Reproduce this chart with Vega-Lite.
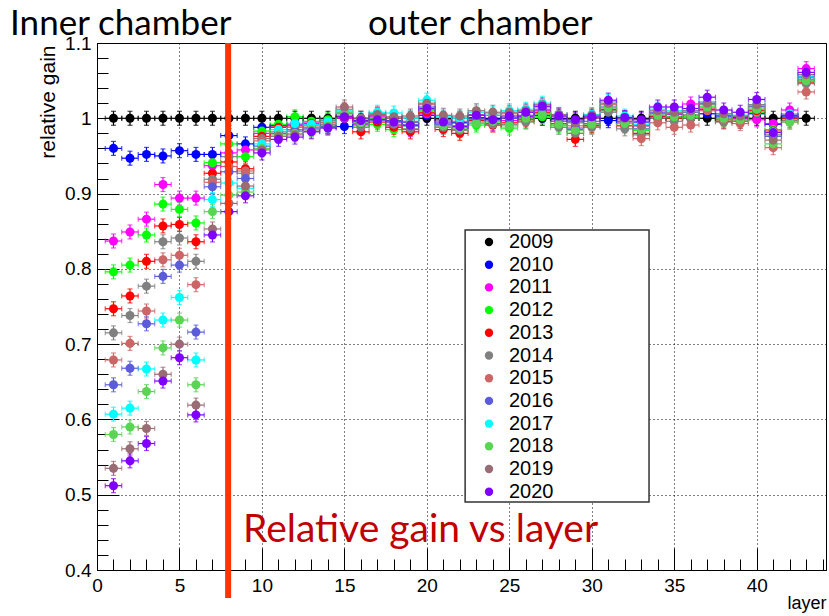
{
"$schema": "https://vega.github.io/schema/vega-lite/v6.json",
"width": 729, "height": 527,
"autosize": "none",
"padding": {"left": 97, "top": 43, "right": 3, "bottom": 46},
"background": "white",
"config": {"view": {"stroke": "black", "strokeWidth": 1}, "font": "Liberation Sans"},
"datasets": {"g": [
{"s":"2009","l":1,"v":1},{"s":"2009","l":2,"v":1},{"s":"2009","l":3,"v":1},{"s":"2009","l":4,"v":1},{"s":"2009","l":5,"v":1},{"s":"2009","l":6,"v":1},{"s":"2009","l":7,"v":1},{"s":"2009","l":8,"v":1},{"s":"2009","l":9,"v":1},{"s":"2009","l":10,"v":1},{"s":"2009","l":11,"v":1},{"s":"2009","l":12,"v":1},{"s":"2009","l":13,"v":1},{"s":"2009","l":14,"v":1},{"s":"2009","l":15,"v":1},{"s":"2009","l":16,"v":1},{"s":"2009","l":17,"v":1},{"s":"2009","l":18,"v":1},{"s":"2009","l":19,"v":1},{"s":"2009","l":20,"v":1},{"s":"2009","l":21,"v":1},{"s":"2009","l":22,"v":1},{"s":"2009","l":23,"v":1},{"s":"2009","l":24,"v":1},{"s":"2009","l":25,"v":1},{"s":"2009","l":26,"v":1},{"s":"2009","l":27,"v":1},{"s":"2009","l":28,"v":1},{"s":"2009","l":29,"v":1},{"s":"2009","l":30,"v":1},{"s":"2009","l":31,"v":1},{"s":"2009","l":32,"v":1},{"s":"2009","l":33,"v":1},{"s":"2009","l":34,"v":1},{"s":"2009","l":35,"v":1},{"s":"2009","l":36,"v":1},{"s":"2009","l":37,"v":1},{"s":"2009","l":38,"v":1},{"s":"2009","l":39,"v":1},{"s":"2009","l":40,"v":1},{"s":"2009","l":41,"v":1},{"s":"2009","l":42,"v":1},{"s":"2009","l":43,"v":1},
{"s":"2010","l":1,"v":0.960},{"s":"2010","l":2,"v":0.947},{"s":"2010","l":3,"v":0.952},{"s":"2010","l":4,"v":0.950},{"s":"2010","l":5,"v":0.957},{"s":"2010","l":6,"v":0.952},{"s":"2010","l":7,"v":0.952},{"s":"2010","l":8,"v":0.977},{"s":"2010","l":9,"v":0.966},{"s":"2010","l":10,"v":0.988},{"s":"2010","l":11,"v":0.990},{"s":"2010","l":12,"v":0.993},{"s":"2010","l":13,"v":0.992},{"s":"2010","l":14,"v":0.989},{"s":"2010","l":15,"v":0.989},{"s":"2010","l":16,"v":0.996},{"s":"2010","l":17,"v":0.998},{"s":"2010","l":18,"v":0.997},{"s":"2010","l":19,"v":0.995},{"s":"2010","l":20,"v":1.004},{"s":"2010","l":21,"v":0.998},{"s":"2010","l":22,"v":0.994},{"s":"2010","l":23,"v":1.001},{"s":"2010","l":24,"v":0.999},{"s":"2010","l":25,"v":1.000},{"s":"2010","l":26,"v":1.002},{"s":"2010","l":27,"v":1.004},{"s":"2010","l":28,"v":0.999},{"s":"2010","l":29,"v":0.996},{"s":"2010","l":30,"v":1.000},{"s":"2010","l":31,"v":0.997},{"s":"2010","l":32,"v":1.000},{"s":"2010","l":33,"v":0.995},{"s":"2010","l":34,"v":1.003},{"s":"2010","l":35,"v":1.002},{"s":"2010","l":36,"v":1.004},{"s":"2010","l":37,"v":1.006},{"s":"2010","l":38,"v":1.003},{"s":"2010","l":39,"v":1.001},{"s":"2010","l":40,"v":1.006},{"s":"2010","l":41,"v":0.992},{"s":"2010","l":42,"v":1.002},{"s":"2010","l":43,"v":1.055},
{"s":"2011","l":1,"v":0.837},{"s":"2011","l":2,"v":0.849},{"s":"2011","l":3,"v":0.866},{"s":"2011","l":4,"v":0.912},{"s":"2011","l":5,"v":0.894},{"s":"2011","l":6,"v":0.894},{"s":"2011","l":7,"v":0.937},{"s":"2011","l":8,"v":0.954},{"s":"2011","l":9,"v":0.958},{"s":"2011","l":10,"v":0.980},{"s":"2011","l":11,"v":0.988},{"s":"2011","l":12,"v":0.992},{"s":"2011","l":13,"v":0.995},{"s":"2011","l":14,"v":0.997},{"s":"2011","l":15,"v":1.000},{"s":"2011","l":16,"v":0.992},{"s":"2011","l":17,"v":1.002},{"s":"2011","l":18,"v":0.990},{"s":"2011","l":19,"v":0.985},{"s":"2011","l":20,"v":1.006},{"s":"2011","l":21,"v":0.990},{"s":"2011","l":22,"v":0.985},{"s":"2011","l":23,"v":0.998},{"s":"2011","l":24,"v":0.993},{"s":"2011","l":25,"v":0.997},{"s":"2011","l":26,"v":1.003},{"s":"2011","l":27,"v":1.010},{"s":"2011","l":28,"v":0.996},{"s":"2011","l":29,"v":0.985},{"s":"2011","l":30,"v":0.993},{"s":"2011","l":31,"v":1.010},{"s":"2011","l":32,"v":0.995},{"s":"2011","l":33,"v":0.990},{"s":"2011","l":34,"v":1.006},{"s":"2011","l":35,"v":1.005},{"s":"2011","l":36,"v":1.019},{"s":"2011","l":37,"v":1.012},{"s":"2011","l":38,"v":1.000},{"s":"2011","l":39,"v":1.000},{"s":"2011","l":40,"v":0.998},{"s":"2011","l":41,"v":0.993},{"s":"2011","l":42,"v":1.011},{"s":"2011","l":43,"v":1.066},
{"s":"2012","l":1,"v":0.796},{"s":"2012","l":2,"v":0.805},{"s":"2012","l":3,"v":0.845},{"s":"2012","l":4,"v":0.886},{"s":"2012","l":5,"v":0.879},{"s":"2012","l":6,"v":0.861},{"s":"2012","l":7,"v":0.941},{"s":"2012","l":8,"v":0.966},{"s":"2012","l":9,"v":0.949},{"s":"2012","l":10,"v":0.983},{"s":"2012","l":11,"v":0.992},{"s":"2012","l":12,"v":1.002},{"s":"2012","l":13,"v":0.996},{"s":"2012","l":14,"v":0.998},{"s":"2012","l":15,"v":1.004},{"s":"2012","l":16,"v":0.990},{"s":"2012","l":17,"v":0.992},{"s":"2012","l":18,"v":0.985},{"s":"2012","l":19,"v":0.990},{"s":"2012","l":20,"v":1.010},{"s":"2012","l":21,"v":0.993},{"s":"2012","l":22,"v":0.988},{"s":"2012","l":23,"v":0.991},{"s":"2012","l":24,"v":0.995},{"s":"2012","l":25,"v":0.987},{"s":"2012","l":26,"v":0.996},{"s":"2012","l":27,"v":1.002},{"s":"2012","l":28,"v":0.990},{"s":"2012","l":29,"v":0.980},{"s":"2012","l":30,"v":0.990},{"s":"2012","l":31,"v":1.011},{"s":"2012","l":32,"v":0.993},{"s":"2012","l":33,"v":0.984},{"s":"2012","l":34,"v":1.004},{"s":"2012","l":35,"v":1.000},{"s":"2012","l":36,"v":1.002},{"s":"2012","l":37,"v":1.015},{"s":"2012","l":38,"v":0.998},{"s":"2012","l":39,"v":0.998},{"s":"2012","l":40,"v":1.008},{"s":"2012","l":41,"v":0.985},{"s":"2012","l":42,"v":0.999},{"s":"2012","l":43,"v":1.050},
{"s":"2013","l":1,"v":0.747},{"s":"2013","l":2,"v":0.764},{"s":"2013","l":3,"v":0.810},{"s":"2013","l":4,"v":0.857},{"s":"2013","l":5,"v":0.859},{"s":"2013","l":6,"v":0.836},{"s":"2013","l":7,"v":0.927},{"s":"2013","l":8,"v":0.942},{"s":"2013","l":9,"v":0.933},{"s":"2013","l":10,"v":0.976},{"s":"2013","l":11,"v":0.988},{"s":"2013","l":12,"v":0.990},{"s":"2013","l":13,"v":0.993},{"s":"2013","l":14,"v":0.995},{"s":"2013","l":15,"v":1.002},{"s":"2013","l":16,"v":0.982},{"s":"2013","l":17,"v":0.995},{"s":"2013","l":18,"v":0.988},{"s":"2013","l":19,"v":0.982},{"s":"2013","l":20,"v":1.008},{"s":"2013","l":21,"v":0.985},{"s":"2013","l":22,"v":0.980},{"s":"2013","l":23,"v":0.997},{"s":"2013","l":24,"v":0.991},{"s":"2013","l":25,"v":0.994},{"s":"2013","l":26,"v":0.998},{"s":"2013","l":27,"v":1.008},{"s":"2013","l":28,"v":0.993},{"s":"2013","l":29,"v":0.972},{"s":"2013","l":30,"v":0.990},{"s":"2013","l":31,"v":1.012},{"s":"2013","l":32,"v":0.990},{"s":"2013","l":33,"v":0.980},{"s":"2013","l":34,"v":1.002},{"s":"2013","l":35,"v":1.000},{"s":"2013","l":36,"v":1.004},{"s":"2013","l":37,"v":1.012},{"s":"2013","l":38,"v":0.996},{"s":"2013","l":39,"v":0.996},{"s":"2013","l":40,"v":1.010},{"s":"2013","l":41,"v":0.983},{"s":"2013","l":42,"v":1.000},{"s":"2013","l":43,"v":1.048},
{"s":"2014","l":1,"v":0.715},{"s":"2014","l":2,"v":0.738},{"s":"2014","l":3,"v":0.777},{"s":"2014","l":4,"v":0.836},{"s":"2014","l":5,"v":0.841},{"s":"2014","l":6,"v":0.810},{"s":"2014","l":7,"v":0.919},{"s":"2014","l":8,"v":0.949},{"s":"2014","l":9,"v":0.927},{"s":"2014","l":10,"v":0.973},{"s":"2014","l":11,"v":0.982},{"s":"2014","l":12,"v":0.985},{"s":"2014","l":13,"v":0.988},{"s":"2014","l":14,"v":0.992},{"s":"2014","l":15,"v":1.006},{"s":"2014","l":16,"v":0.988},{"s":"2014","l":17,"v":0.998},{"s":"2014","l":18,"v":0.992},{"s":"2014","l":19,"v":0.986},{"s":"2014","l":20,"v":1.012},{"s":"2014","l":21,"v":0.988},{"s":"2014","l":22,"v":0.984},{"s":"2014","l":23,"v":0.995},{"s":"2014","l":24,"v":0.992},{"s":"2014","l":25,"v":0.992},{"s":"2014","l":26,"v":0.995},{"s":"2014","l":27,"v":1.006},{"s":"2014","l":28,"v":0.988},{"s":"2014","l":29,"v":0.980},{"s":"2014","l":30,"v":0.988},{"s":"2014","l":31,"v":1.008},{"s":"2014","l":32,"v":0.986},{"s":"2014","l":33,"v":0.978},{"s":"2014","l":34,"v":1.000},{"s":"2014","l":35,"v":0.996},{"s":"2014","l":36,"v":1.000},{"s":"2014","l":37,"v":1.018},{"s":"2014","l":38,"v":0.995},{"s":"2014","l":39,"v":0.996},{"s":"2014","l":40,"v":1.012},{"s":"2014","l":41,"v":0.978},{"s":"2014","l":42,"v":0.997},{"s":"2014","l":43,"v":1.046},
{"s":"2015","l":1,"v":0.679},{"s":"2015","l":2,"v":0.701},{"s":"2015","l":3,"v":0.744},{"s":"2015","l":4,"v":0.812},{"s":"2015","l":5,"v":0.818},{"s":"2015","l":6,"v":0.779},{"s":"2015","l":7,"v":0.915},{"s":"2015","l":8,"v":0.936},{"s":"2015","l":9,"v":0.930},{"s":"2015","l":10,"v":0.970},{"s":"2015","l":11,"v":0.985},{"s":"2015","l":12,"v":0.988},{"s":"2015","l":13,"v":0.990},{"s":"2015","l":14,"v":0.994},{"s":"2015","l":15,"v":1.012},{"s":"2015","l":16,"v":0.995},{"s":"2015","l":17,"v":1.006},{"s":"2015","l":18,"v":1.000},{"s":"2015","l":19,"v":0.996},{"s":"2015","l":20,"v":1.018},{"s":"2015","l":21,"v":0.998},{"s":"2015","l":22,"v":0.996},{"s":"2015","l":23,"v":1.005},{"s":"2015","l":24,"v":1.004},{"s":"2015","l":25,"v":1.006},{"s":"2015","l":26,"v":1.008},{"s":"2015","l":27,"v":1.015},{"s":"2015","l":28,"v":1.003},{"s":"2015","l":29,"v":0.990},{"s":"2015","l":30,"v":1.000},{"s":"2015","l":31,"v":1.018},{"s":"2015","l":32,"v":0.998},{"s":"2015","l":33,"v":0.973},{"s":"2015","l":34,"v":0.994},{"s":"2015","l":35,"v":0.988},{"s":"2015","l":36,"v":0.991},{"s":"2015","l":37,"v":1.010},{"s":"2015","l":38,"v":0.998},{"s":"2015","l":39,"v":0.993},{"s":"2015","l":40,"v":1.015},{"s":"2015","l":41,"v":0.961},{"s":"2015","l":42,"v":0.995},{"s":"2015","l":43,"v":1.035},
{"s":"2016","l":1,"v":0.646},{"s":"2016","l":2,"v":0.668},{"s":"2016","l":3,"v":0.727},{"s":"2016","l":4,"v":0.790},{"s":"2016","l":5,"v":0.805},{"s":"2016","l":6,"v":0.716},{"s":"2016","l":7,"v":0.909},{"s":"2016","l":8,"v":0.929},{"s":"2016","l":9,"v":0.920},{"s":"2016","l":10,"v":0.963},{"s":"2016","l":11,"v":0.980},{"s":"2016","l":12,"v":0.983},{"s":"2016","l":13,"v":0.986},{"s":"2016","l":14,"v":0.990},{"s":"2016","l":15,"v":1.008},{"s":"2016","l":16,"v":0.993},{"s":"2016","l":17,"v":1.004},{"s":"2016","l":18,"v":0.996},{"s":"2016","l":19,"v":0.990},{"s":"2016","l":20,"v":1.015},{"s":"2016","l":21,"v":0.992},{"s":"2016","l":22,"v":0.990},{"s":"2016","l":23,"v":1.000},{"s":"2016","l":24,"v":0.998},{"s":"2016","l":25,"v":1.000},{"s":"2016","l":26,"v":1.004},{"s":"2016","l":27,"v":1.012},{"s":"2016","l":28,"v":0.998},{"s":"2016","l":29,"v":0.987},{"s":"2016","l":30,"v":0.996},{"s":"2016","l":31,"v":1.015},{"s":"2016","l":32,"v":0.996},{"s":"2016","l":33,"v":0.986},{"s":"2016","l":34,"v":1.008},{"s":"2016","l":35,"v":1.006},{"s":"2016","l":36,"v":1.008},{"s":"2016","l":37,"v":1.020},{"s":"2016","l":38,"v":1.004},{"s":"2016","l":39,"v":1.002},{"s":"2016","l":40,"v":1.016},{"s":"2016","l":41,"v":0.976},{"s":"2016","l":42,"v":1.002},{"s":"2016","l":43,"v":1.052},
{"s":"2017","l":1,"v":0.607},{"s":"2017","l":2,"v":0.615},{"s":"2017","l":3,"v":0.667},{"s":"2017","l":4,"v":0.732},{"s":"2017","l":5,"v":0.762},{"s":"2017","l":6,"v":0.679},{"s":"2017","l":7,"v":0.892},{"s":"2017","l":8,"v":0.914},{"s":"2017","l":9,"v":0.907},{"s":"2017","l":10,"v":0.966},{"s":"2017","l":11,"v":0.985},{"s":"2017","l":12,"v":0.993},{"s":"2017","l":13,"v":0.992},{"s":"2017","l":14,"v":0.996},{"s":"2017","l":15,"v":1.010},{"s":"2017","l":16,"v":0.998},{"s":"2017","l":17,"v":1.008},{"s":"2017","l":18,"v":1.007},{"s":"2017","l":19,"v":1.000},{"s":"2017","l":20,"v":1.024},{"s":"2017","l":21,"v":1.002},{"s":"2017","l":22,"v":1.000},{"s":"2017","l":23,"v":1.008},{"s":"2017","l":24,"v":1.006},{"s":"2017","l":25,"v":1.010},{"s":"2017","l":26,"v":1.012},{"s":"2017","l":27,"v":1.020},{"s":"2017","l":28,"v":1.005},{"s":"2017","l":29,"v":0.995},{"s":"2017","l":30,"v":1.005},{"s":"2017","l":31,"v":1.022},{"s":"2017","l":32,"v":1.003},{"s":"2017","l":33,"v":0.992},{"s":"2017","l":34,"v":1.012},{"s":"2017","l":35,"v":1.010},{"s":"2017","l":36,"v":1.010},{"s":"2017","l":37,"v":1.022},{"s":"2017","l":38,"v":1.006},{"s":"2017","l":39,"v":1.004},{"s":"2017","l":40,"v":1.018},{"s":"2017","l":41,"v":0.982},{"s":"2017","l":42,"v":1.006},{"s":"2017","l":43,"v":1.056},
{"s":"2018","l":1,"v":0.580},{"s":"2018","l":2,"v":0.590},{"s":"2018","l":3,"v":0.637},{"s":"2018","l":4,"v":0.695},{"s":"2018","l":5,"v":0.732},{"s":"2018","l":6,"v":0.646},{"s":"2018","l":7,"v":0.876},{"s":"2018","l":8,"v":0.898},{"s":"2018","l":9,"v":0.902},{"s":"2018","l":10,"v":0.960},{"s":"2018","l":11,"v":0.978},{"s":"2018","l":12,"v":0.980},{"s":"2018","l":13,"v":0.985},{"s":"2018","l":14,"v":0.990},{"s":"2018","l":15,"v":1.008},{"s":"2018","l":16,"v":0.994},{"s":"2018","l":17,"v":1.000},{"s":"2018","l":18,"v":0.996},{"s":"2018","l":19,"v":0.992},{"s":"2018","l":20,"v":1.014},{"s":"2018","l":21,"v":0.990},{"s":"2018","l":22,"v":0.986},{"s":"2018","l":23,"v":0.993},{"s":"2018","l":24,"v":0.996},{"s":"2018","l":25,"v":0.990},{"s":"2018","l":26,"v":1.000},{"s":"2018","l":27,"v":1.005},{"s":"2018","l":28,"v":0.992},{"s":"2018","l":29,"v":0.984},{"s":"2018","l":30,"v":0.992},{"s":"2018","l":31,"v":1.014},{"s":"2018","l":32,"v":0.993},{"s":"2018","l":33,"v":0.985},{"s":"2018","l":34,"v":1.004},{"s":"2018","l":35,"v":1.002},{"s":"2018","l":36,"v":1.004},{"s":"2018","l":37,"v":1.015},{"s":"2018","l":38,"v":1.000},{"s":"2018","l":39,"v":0.998},{"s":"2018","l":40,"v":1.012},{"s":"2018","l":41,"v":0.966},{"s":"2018","l":42,"v":0.995},{"s":"2018","l":43,"v":1.050},
{"s":"2019","l":1,"v":0.535},{"s":"2019","l":2,"v":0.561},{"s":"2019","l":3,"v":0.588},{"s":"2019","l":4,"v":0.660},{"s":"2019","l":5,"v":0.700},{"s":"2019","l":6,"v":0.619},{"s":"2019","l":7,"v":0.853},{"s":"2019","l":8,"v":0.887},{"s":"2019","l":9,"v":0.910},{"s":"2019","l":10,"v":0.958},{"s":"2019","l":11,"v":0.976},{"s":"2019","l":12,"v":0.978},{"s":"2019","l":13,"v":0.983},{"s":"2019","l":14,"v":0.988},{"s":"2019","l":15,"v":1.015},{"s":"2019","l":16,"v":1.000},{"s":"2019","l":17,"v":1.005},{"s":"2019","l":18,"v":1.002},{"s":"2019","l":19,"v":1.003},{"s":"2019","l":20,"v":1.020},{"s":"2019","l":21,"v":1.004},{"s":"2019","l":22,"v":1.003},{"s":"2019","l":23,"v":1.010},{"s":"2019","l":24,"v":1.008},{"s":"2019","l":25,"v":1.008},{"s":"2019","l":26,"v":1.010},{"s":"2019","l":27,"v":1.018},{"s":"2019","l":28,"v":1.005},{"s":"2019","l":29,"v":0.994},{"s":"2019","l":30,"v":1.004},{"s":"2019","l":31,"v":1.020},{"s":"2019","l":32,"v":1.000},{"s":"2019","l":33,"v":0.990},{"s":"2019","l":34,"v":1.010},{"s":"2019","l":35,"v":1.008},{"s":"2019","l":36,"v":1.010},{"s":"2019","l":37,"v":1.020},{"s":"2019","l":38,"v":1.006},{"s":"2019","l":39,"v":1.003},{"s":"2019","l":40,"v":1.018},{"s":"2019","l":41,"v":0.971},{"s":"2019","l":42,"v":1.004},{"s":"2019","l":43,"v":1.058},
{"s":"2020","l":1,"v":0.512},{"s":"2020","l":2,"v":0.545},{"s":"2020","l":3,"v":0.568},{"s":"2020","l":4,"v":0.651},{"s":"2020","l":5,"v":0.682},{"s":"2020","l":6,"v":0.606},{"s":"2020","l":7,"v":0.845},{"s":"2020","l":8,"v":0.876},{"s":"2020","l":9,"v":0.897},{"s":"2020","l":10,"v":0.954},{"s":"2020","l":11,"v":0.972},{"s":"2020","l":12,"v":0.975},{"s":"2020","l":13,"v":0.982},{"s":"2020","l":14,"v":0.987},{"s":"2020","l":15,"v":1.002},{"s":"2020","l":16,"v":0.997},{"s":"2020","l":17,"v":0.998},{"s":"2020","l":18,"v":0.995},{"s":"2020","l":19,"v":0.991},{"s":"2020","l":20,"v":1.013},{"s":"2020","l":21,"v":0.995},{"s":"2020","l":22,"v":0.989},{"s":"2020","l":23,"v":1.004},{"s":"2020","l":24,"v":0.998},{"s":"2020","l":25,"v":1.003},{"s":"2020","l":26,"v":1.008},{"s":"2020","l":27,"v":1.016},{"s":"2020","l":28,"v":1.003},{"s":"2020","l":29,"v":0.998},{"s":"2020","l":30,"v":1.002},{"s":"2020","l":31,"v":1.024},{"s":"2020","l":32,"v":1.001},{"s":"2020","l":33,"v":0.998},{"s":"2020","l":34,"v":1.015},{"s":"2020","l":35,"v":1.015},{"s":"2020","l":36,"v":1.013},{"s":"2020","l":37,"v":1.028},{"s":"2020","l":38,"v":1.011},{"s":"2020","l":39,"v":1.008},{"s":"2020","l":40,"v":1.025},{"s":"2020","l":41,"v":0.981},{"s":"2020","l":42,"v":1.004},{"s":"2020","l":43,"v":1.061}
]},
"resolve": {"axis": {"x": "independent", "y": "independent"}, "legend": {"color": "independent"}},
"layer": [
{
 "data": {"name": "g"},
 "mark": {"type": "rule", "xOffset": -8.25, "x2Offset": 8.25, "strokeWidth": 1.2},
 "encoding": {
  "x": {"field": "l", "type": "quantitative", "scale": {"domain": [0, 44.2], "nice": false, "zero": false},
   "axis": {"values": [0,5,10,15,20,25,30,35,40], "tickSize": -22, "tickColor": "black", "domainColor": "black", "grid": true, "gridColor": "black", "gridDash": [1,3], "gridOpacity": 1, "labelFontSize": 19, "labelColor": "black", "labelFont": "Liberation Sans", "labelPadding": 28, "labelFlush": false, "title": "layer", "titleFont": "Liberation Sans", "titleFontSize": 18, "titleFontWeight": "normal", "titleColor": "black", "titleX": 729, "titleY": 33, "titleAlign": "right", "titleBaseline": "middle", "titleAnchor": "end"}},
  "x2": {"field": "l"},
  "y": {"field": "v", "type": "quantitative", "scale": {"domain": [0.4, 1.1], "nice": false, "zero": false},
   "axis": {"values": [0.4,0.5,0.6,0.7,0.8,0.9,1,1.1], "format": ".1~f", "tickSize": -22, "tickColor": "black", "domainColor": "black", "grid": true, "gridColor": "black", "gridDash": [1,3], "gridOpacity": 1, "labelFontSize": 19, "labelColor": "black", "labelFont": "Liberation Sans", "labelPadding": 28, "labelFlush": false, "title": "relative gain", "titleFont": "Liberation Sans", "titleFontSize": 21, "titleFontWeight": "normal", "titleColor": "black", "titleX": -49, "titleY": 2, "titleAngle": 270, "titleAlign": "right", "titleBaseline": "middle", "titleAnchor": "end"}},
  "color": {"field": "s", "type": "nominal", "scale": {"domain": ["2009","2010","2011","2012","2013","2014","2015","2016","2017","2018","2019","2020"], "range": ["#000000","#0000FF","#FF00FF","#00FF00","#FF0000","#808080","#CC6666","#5C5CDB","#00FFFF","#59D454","#996B73","#7F00FF"]}, "legend": null}
 }
},
{
 "data": {"name": "g"},
 "mark": {"type": "rule", "yOffset": -7, "y2Offset": 7, "strokeWidth": 1.2},
 "encoding": {
  "x": {"field": "l", "type": "quantitative", "axis": {"orient": "bottom", "values": [1,2,3,4,6,7,8,9,11,12,13,14,16,17,18,19,21,22,23,24,26,27,28,29,31,32,33,34,36,37,38,39,41,42,43,44], "tickSize": -11, "tickColor": "black", "domain": false, "grid": false, "labels": false, "title": null}},
  "y": {"field": "v", "type": "quantitative", "axis": {"orient": "left", "values": [0.42,0.44,0.46,0.48,0.52,0.54,0.56,0.58,0.62,0.64,0.66,0.68,0.72,0.74,0.76,0.78,0.82,0.84,0.86,0.88,0.92,0.94,0.96,0.98,1.02,1.04,1.06,1.08], "tickSize": -11, "tickColor": "black", "domain": false, "grid": false, "labels": false, "title": null}},
  "y2": {"field": "v"},
  "color": {"field": "s", "type": "nominal", "legend": null}
 }
},
{
 "data": {"name": "g"},
 "mark": {"type": "tick", "orient": "vertical", "size": 5, "thickness": 1.2, "xOffset": -8.25},
 "encoding": {"x": {"field": "l", "type": "quantitative", "axis": null}, "y": {"field": "v", "type": "quantitative", "axis": null}, "color": {"field": "s", "type": "nominal", "legend": null}}
},
{
 "data": {"name": "g"},
 "mark": {"type": "tick", "orient": "vertical", "size": 5, "thickness": 1.2, "xOffset": 8.25},
 "encoding": {"x": {"field": "l", "type": "quantitative", "axis": null}, "y": {"field": "v", "type": "quantitative", "axis": null}, "color": {"field": "s", "type": "nominal", "legend": null}}
},
{
 "data": {"name": "g"},
 "mark": {"type": "tick", "orient": "horizontal", "size": 5, "thickness": 1.2, "yOffset": -7},
 "encoding": {"x": {"field": "l", "type": "quantitative", "axis": null}, "y": {"field": "v", "type": "quantitative", "axis": null}, "color": {"field": "s", "type": "nominal", "legend": null}}
},
{
 "data": {"name": "g"},
 "mark": {"type": "tick", "orient": "horizontal", "size": 5, "thickness": 1.2, "yOffset": 7},
 "encoding": {"x": {"field": "l", "type": "quantitative", "axis": null}, "y": {"field": "v", "type": "quantitative", "axis": null}, "color": {"field": "s", "type": "nominal", "legend": null}}
},
{
 "data": {"name": "g"},
 "mark": {"type": "point", "shape": "circle", "filled": true, "size": 82, "opacity": 1, "strokeWidth": 0},
 "encoding": {
  "x": {"field": "l", "type": "quantitative", "axis": null},
  "y": {"field": "v", "type": "quantitative", "axis": null},
  "color": {"field": "s", "type": "nominal", "legend": {"orient": "none", "legendX": 368, "legendY": 187, "title": null, "padding": 2, "symbolOffset": 12, "labelOffset": 10, "labelFontSize": 20, "labelFont": "Liberation Sans", "labelColor": "black", "rowPadding": 2.7, "symbolType": "circle", "symbolSize": 70, "symbolStrokeWidth": 0, "labelLimit": 300}}
 }
},
{
 "data": {"values": [{}]},
 "mark": {"type": "rect", "fill": "white", "stroke": "#333333", "strokeWidth": 1.5},
 "encoding": {"x": {"datum": 22.32, "type": "quantitative", "axis": null}, "x2": {"datum": 33.47}, "y": {"datum": 0.8516, "type": "quantitative", "axis": null}, "y2": {"datum": 0.4904}}
},
{
 "data": {"values": [{}]},
 "mark": {"type": "rule", "color": "#FF3300", "strokeWidth": 6},
 "encoding": {"x": {"datum": 7.95, "type": "quantitative", "axis": null}, "y": {"datum": 1.1, "type": "quantitative", "axis": null}, "y2": {"datum": 0.3628}}
},
{
 "data": {"values": [{}]},
 "mark": {"type": "text", "font": "Lato", "fontSize": 35, "color": "black", "align": "left", "baseline": "middle"},
 "encoding": {"x": {"datum": -5.27, "type": "quantitative", "axis": null}, "y": {"datum": 1.1252, "type": "quantitative", "axis": null}, "text": {"value": "Inner chamber"}}
},
{
 "data": {"values": [{}]},
 "mark": {"type": "text", "font": "Lato", "fontSize": 35, "color": "black", "align": "left", "baseline": "middle"},
 "encoding": {"x": {"datum": 16.43, "type": "quantitative", "axis": null}, "y": {"datum": 1.1252, "type": "quantitative", "axis": null}, "text": {"value": "outer chamber"}}
},
{
 "data": {"values": [{}]},
 "mark": {"type": "text", "font": "Lato", "fontSize": 39, "color": "#C00000", "align": "left", "baseline": "middle"},
 "encoding": {"x": {"datum": 8.85, "type": "quantitative", "axis": null}, "y": {"datum": 0.4531, "type": "quantitative", "axis": null}, "text": {"value": "Relative gain vs layer"}}
}
]
}
